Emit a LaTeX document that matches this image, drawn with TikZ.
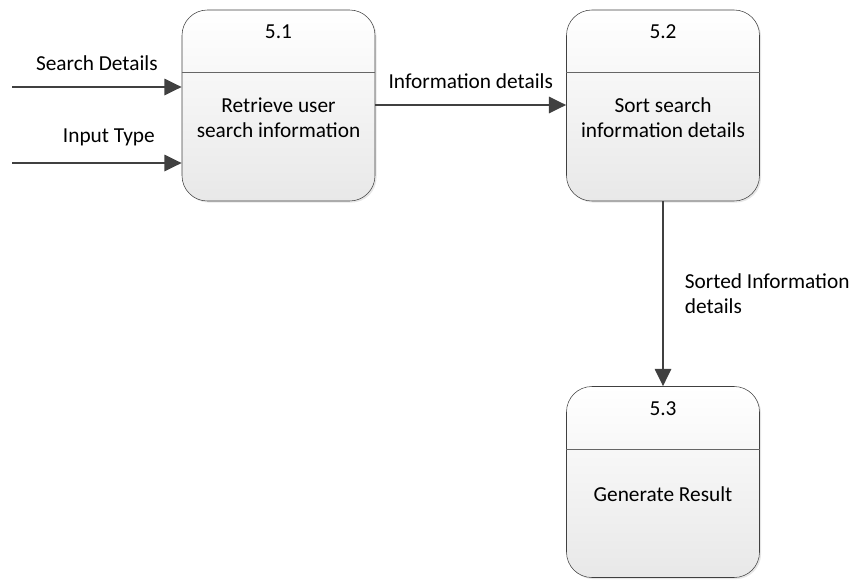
\documentclass[tikz,border=0pt]{standalone}
\usepackage{fontspec}
\setmainfont{Carlito}
\usetikzlibrary{arrows.meta,shadows}
\begin{document}
\begin{tikzpicture}[x=0.75pt, y=-0.75pt, font=\fontsize{16}{18.75}\selectfont]

\tikzstyle{proc}=[rectangle, rounded corners=19pt, draw=black!75, thin, minimum width=144.75pt, minimum height=143.25pt, top color=white, bottom color=black!9, drop shadow={opacity=0.2, shadow xshift=1.2pt, shadow yshift=-1.2pt}]
\tikzstyle{flow}=[-{Triangle[length=13pt, width=12pt]}, line width=2.2pt, draw=black!75]
\tikzstyle{divider}=[draw=black!60, thin]

\useasboundingbox (0,0) rectangle (855,579);

\node (P1) [proc] at (278.5,105.5) {};
\node (P2) [proc] at (663,105.5) {};
\node (P3) [proc] at (663,482) {};

\draw [divider] ([yshift=-47.25pt]P1.north west) -- ([yshift=-47.25pt]P1.north east);
\draw [divider] ([yshift=-47.25pt]P2.north west) -- ([yshift=-47.25pt]P2.north east);
\draw [divider] ([yshift=-47.25pt]P3.north west) -- ([yshift=-47.25pt]P3.north east);

\node (N1) at ([yshift=-16.5pt]P1.north) {5.1};
\node (N2) at ([yshift=-16.5pt]P2.north) {5.2};
\node (N3) at ([yshift=-16.5pt]P3.north) {5.3};

\node (T1) [align=center] at ([yshift=-81pt]P1.north) {Retrieve user\\search information};
\node (T2) [align=center] at ([yshift=-81pt]P2.north) {Sort search\\information details};
\node (T3) [align=center] at ([yshift=-81pt]P3.north) {Generate Result};

\coordinate (S1) at (12,87);
\coordinate (S2) at (12,163);

\draw [flow] (S1) -- (S1 -| P1.west) node [midway, above=8pt] {Search Details};
\draw [flow] (S2) -- (S2 -| P1.west) node [midway, above=8pt, xshift=9pt] {Input Type};
\draw [flow] (P1.east |- 0,105) -- node [above=8pt] {Information details} (P2.west |- 0,105);
\draw [flow] (P2) -- node [right=12pt, align=left, yshift=0pt] {Sorted Information\\details} (P3);

\end{tikzpicture}
\end{document}
